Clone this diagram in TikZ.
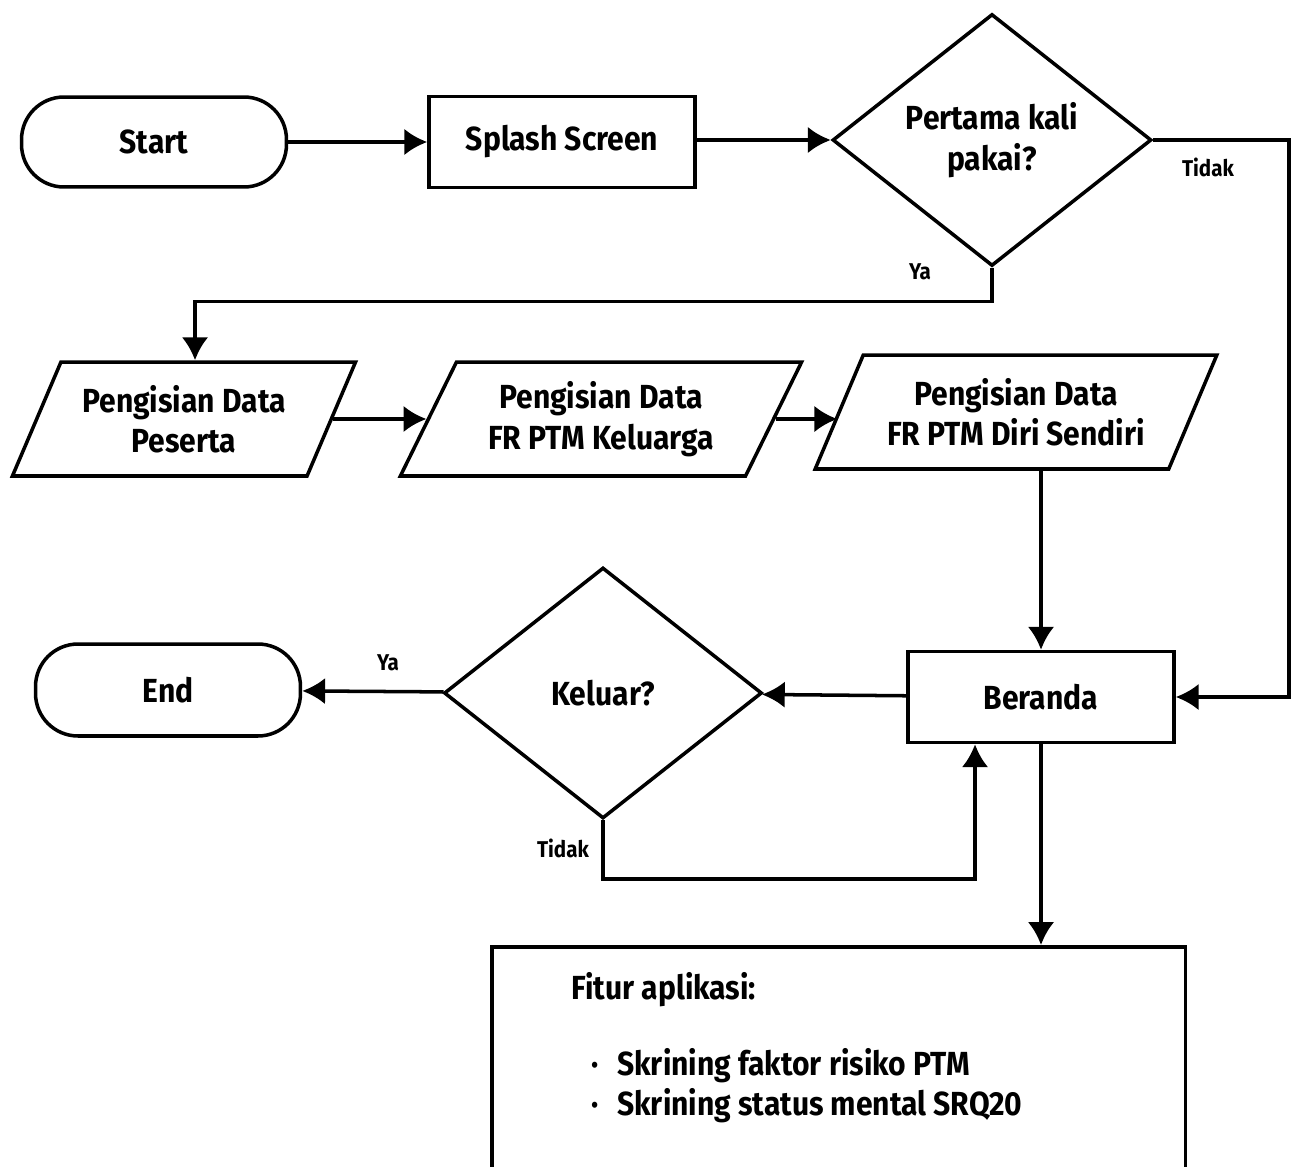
\documentclass[tikz,border=0pt]{standalone}
\usepackage{fontspec}
\setmainfont{Fira Sans}[FakeStretch=0.9]
\usetikzlibrary{shapes.geometric, arrows.meta}
\tikzset{>={Latex[length=13pt,width=15pt]}}

\begin{document}
\begin{tikzpicture}[x=0.02cm, y=-0.02cm, line width=2pt,
    txt/.style={font=\bfseries\fontsize{19}{23}\selectfont, align=center},
    terminal/.style={txt, draw, rectangle, rounded corners=0.85cm, minimum width=5.3cm, minimum height=1.8cm},
    process/.style={txt, draw, rectangle, minimum width=5.32cm, minimum height=1.82cm},
    decision/.style={txt, draw, diamond, inner sep=0pt, minimum width=6.38cm, minimum height=5.04cm},
    datain/.style={txt, draw, trapezium, trapezium left angle=62, trapezium right angle=118,
      trapezium stretches=true, minimum height=2.28cm},
    lbl/.style={font=\bfseries\fontsize{13}{15}\selectfont}
  ]

  \useasboundingbox (0,0) rectangle (1291,1166);

  % top row
  \node[terminal] (start) at (154,142) {Start};
  \node[process] (splash) at (562,142) {Splash Screen};
  \node[decision] (first) at (992,140) {Pertama kali\\pakai?};
  \coordinate (kanan) at (1289,140);

  % data entry
  \node[datain, minimum width=6.88cm] (peserta) at (184,419) {Pengisian Data\\Peserta};
  \node[datain, minimum width=8.04cm] (keluarga) at (601,419) {Pengisian Data\\FR PTM Keluarga};
  \node[datain, minimum width=8.06cm] (diri) at (1016,412) {Pengisian Data\\FR PTM Diri Sendiri};

  % home and exit
  \node[process] (beranda) at (1041,697) {Beranda};
  \node[decision, minimum width=6.36cm, minimum height=5.02cm] (keluar) at (603,693) {Keluar?};
  \node[terminal, minimum height=1.84cm] (end) at (168,690) {End};

  % features
  \node[draw, minimum width=13.88cm, minimum height=5cm, anchor=north west] (fitur) at (490,945) {};
  \node[txt, anchor=west] (judul) at (564,990) {Fitur aplikasi:};
  \node[txt, anchor=west] (fitur1) at (584,1066) {·\hspace{0.55em}Skrining faktor risiko PTM};
  \node[txt, anchor=west] (fitur2) at (584,1106) {·\hspace{0.55em}Skrining status mental SRQ20};

  % connectors
  \draw[->] (start) -- (splash);
  \draw[->] (splash.east |- first.west) -- (first.west);
  \draw[->] (first.south) -- ++(0,34) -| ([xshift=0.22cm]peserta.north);
  \node[lbl] (ya1) at (920,272) {Ya};
  \draw[->] (first.east) -- (kanan) |- (beranda.east);
  \node[lbl] (tidak1) at (1208,167) {Tidak};
  \draw[->] (peserta) -- (keluarga);
  \draw[->] (keluarga.east) -- (diri.west |- keluarga.east);
  \draw[->] (beranda.north |- diri.south) -- (beranda.north);
  \draw[->] (beranda) -- (keluar);
  \draw[->] (keluar) -- (end);
  \node[lbl] (ya2) at (388,663) {Ya};
  \draw[->] (keluar.south) -- ++(0,59) -| ([xshift=-1.32cm]beranda.south);
  \node[lbl] (tidak2) at (563,848) {Tidak};
  \draw[->] (beranda.south) -- (beranda.south |- fitur.north);

\end{tikzpicture}
\end{document}
